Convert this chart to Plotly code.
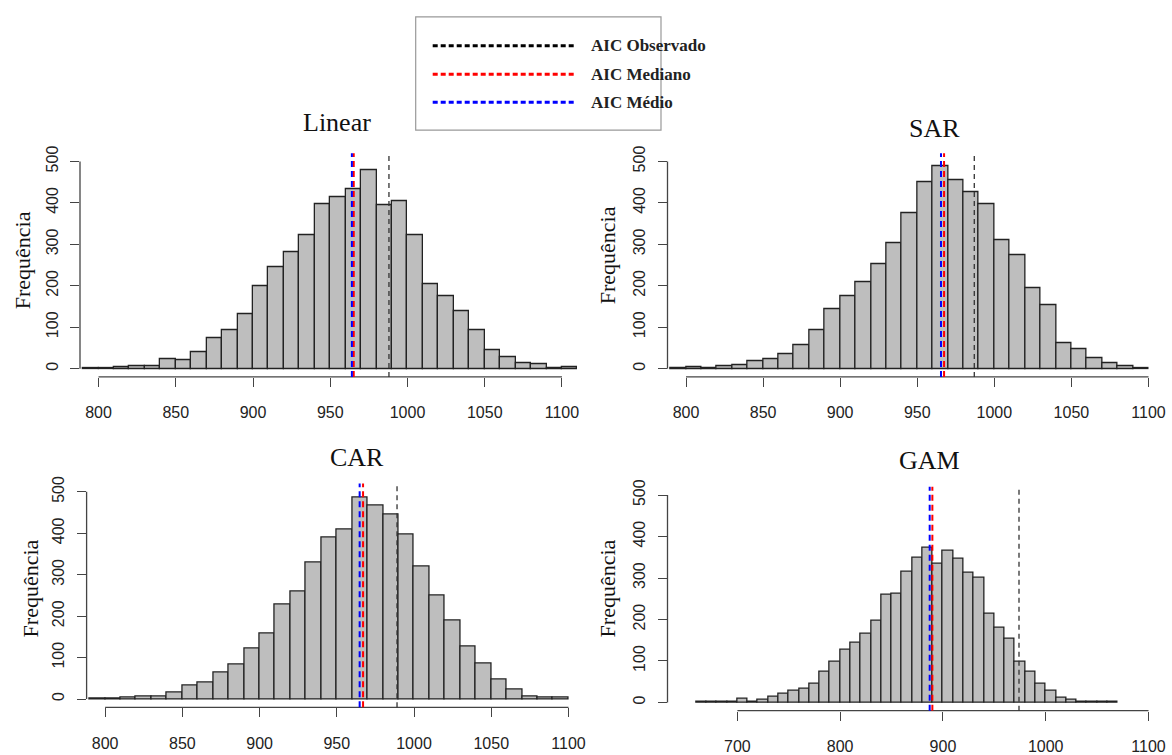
import plotly.graph_objects as go

# ---------------- data ----------------
panel_names = ["Linear", "SAR", "CAR", "GAM"]
bin_width = 10
bin_starts = [790, 790, 790, 660]

linear_counts = [2, 2, 3, 6, 6, 22, 20, 40, 74, 93, 132, 199, 246, 281, 321, 396,
                 414, 432, 479, 395, 405, 323, 204, 176, 139, 92, 44, 27, 14, 10, 1, 3]
sar_counts = [1, 3, 2, 5, 9, 17, 23, 35, 56, 93, 143, 175, 208, 253, 303, 376,
              451, 488, 456, 426, 397, 309, 275, 194, 154, 62, 48, 25, 13, 7, 2]
car_counts = [1, 1, 3, 5, 6, 16, 32, 40, 64, 83, 122, 158, 228, 259, 329, 390,
              408, 486, 466, 445, 397, 320, 250, 189, 127, 86, 46, 24, 7, 4, 3]
gam_counts = [1, 1, 2, 1, 8, 2, 7, 13, 20, 29, 33, 45, 74, 97, 128, 143, 166, 198,
              260, 263, 314, 349, 372, 335, 366, 347, 312, 300, 213, 181, 154, 97,
              74, 45, 28, 11, 6, 2, 1, 1, 2]
all_counts = [linear_counts, sar_counts, car_counts, gam_counts]

aic_observado = [988, 987, 989, 974]
aic_mediano = [965.2, 967.4, 967.0, 889.7]
aic_medio = [964.0, 965.4, 964.8, 887.1]

x_ticks = [[800, 850, 900, 950, 1000, 1050, 1100]] * 3 + [[700, 800, 900, 1000, 1100]]
y_ticks = [0, 100, 200, 300, 400, 500]

legend_labels = ["AIC Observado", "AIC Mediano", "AIC Médio"]
legend_colors = ["#000000", "#FF0000", "#0000FF"]

# ---------------- layout geometry (pixels) ----------------
W, H = 1172, 755
panel_px = [  # x0, x1, ytop, ybottom
    (80, 580.5, 148.3, 375.4),
    (667.5, 1167, 148.3, 375.4),
    (86.6, 587, 483.6, 710.7),
    (667.5, 1167, 486.9, 714.1),
]
x_ranges = [[788, 1112], [788, 1112], [788, 1112], [632, 1118]]
title_pos = [(337, 117), (934, 123), (357, 457), (929, 460)]
ylab_pos = [(22, 257), (607, 252), (30, 590), (607, 590)]

SERIF = "Liberation Serif"
SANS = "Liberation Sans"

def px_x(v):
    return v / W

def px_y(v):
    return 1 - v / H

fig = go.Figure()
shapes = []
annotations = []
layout_axes = {}

for i, name in enumerate(panel_names):
    counts = all_counts[i]
    start = bin_starts[i]
    centers = [start + bin_width * (k + 0.5) for k in range(len(counts))]
    xa = "x" if i == 0 else f"x{i+1}"
    ya = "y" if i == 0 else f"y{i+1}"
    fig.add_trace(go.Bar(
        x=centers, y=counts, width=bin_width,
        marker=dict(color="#BEBEBE", line=dict(color="#222222", width=1.3)),
        xaxis=xa, yaxis=ya, showlegend=False, hoverinfo="x+y",
    ))
    x0, x1, yt, yb = panel_px[i]
    xkey = "xaxis" if i == 0 else f"xaxis{i+1}"
    ykey = "yaxis" if i == 0 else f"yaxis{i+1}"
    layout_axes[xkey] = dict(
        domain=[px_x(x0), px_x(x1)], range=x_ranges[i], anchor=ya,
        showgrid=False, zeroline=False, showline=False,
        ticks="outside", ticklen=9, tickwidth=1.3, tickcolor="#444444",
        tickvals=x_ticks[i], ticktext=[str(t) for t in x_ticks[i]],
        tickfont=dict(family=SANS, size=16, color="#222222"),
        ticklabelstandoff=12,
    )
    layout_axes[ykey] = dict(
        domain=[px_y(yb), px_y(yt)], range=[-20, 520], anchor=xa,
        showgrid=False, zeroline=False, showline=False,
        ticks="outside", ticklen=9, tickwidth=1.3, tickcolor="#444444",
        tickvals=y_ticks, ticktext=[str(t) for t in y_ticks], tickangle=-90,
        tickfont=dict(family=SANS, size=16, color="#222222"),
        ticklabelstandoff=6,
    )
    # R-style axis lines spanning first to last tick
    shapes.append(dict(type="line", xref=xa, yref=f"{ya} domain",
                       x0=x_ticks[i][0], x1=x_ticks[i][-1], y0=0, y1=0,
                       line=dict(color="#444444", width=1.3)))
    shapes.append(dict(type="line", xref=f"{xa} domain", yref=ya,
                       x0=0, x1=0, y0=y_ticks[0], y1=y_ticks[-1],
                       line=dict(color="#444444", width=1.3)))
    # reference lines
    shapes.append(dict(type="line", xref=xa, yref=f"{ya} domain",
                       x0=aic_observado[i], x1=aic_observado[i], y0=0, y1=1,
                       line=dict(color="#333333", width=1.3, dash="5px,4px")))
    shapes.append(dict(type="line", xref=xa, yref=f"{ya} domain",
                       x0=aic_mediano[i], x1=aic_mediano[i], y0=0, y1=1,
                       line=dict(color="#FF0000", width=2, dash="6px,4px")))
    shapes.append(dict(type="line", xref=xa, yref=f"{ya} domain",
                       x0=aic_medio[i], x1=aic_medio[i], y0=0, y1=1,
                       line=dict(color="#0000FF", width=2, dash="6px,4px")))
    # titles
    annotations.append(dict(text=name, xref="paper", yref="paper",
                            x=px_x(title_pos[i][0]), y=px_y(title_pos[i][1]),
                            xanchor="center", yanchor="middle", showarrow=False,
                            font=dict(family=SERIF, size=26, color="#111111")))
    annotations.append(dict(text="Frequência", xref="paper", yref="paper",
                            x=px_x(ylab_pos[i][0]), y=px_y(ylab_pos[i][1]),
                            xanchor="center", yanchor="middle", showarrow=False,
                            textangle=-90,
                            font=dict(family=SERIF, size=22, color="#111111")))

# legend box
shapes.append(dict(type="rect", xref="paper", yref="paper",
                   x0=px_x(415.7), x1=px_x(661), y0=px_y(125), y1=px_y(10),
                   line=dict(color="#999999", width=1.2), fillcolor="white", layer="below"))
legend_y = [39.3, 68.3, 96.7]
for lab, col, ly in zip(legend_labels, legend_colors, legend_y):
    shapes.append(dict(type="line", xref="paper", yref="paper",
                       x0=px_x(432.7), x1=px_x(576.7), y0=px_y(ly), y1=px_y(ly),
                       line=dict(color=col, width=3, dash="5px,3px")))
    annotations.append(dict(text=f"<b>{lab}</b>", xref="paper", yref="paper",
                            x=px_x(589), y=px_y(ly), xanchor="left", yanchor="middle",
                            showarrow=False,
                            font=dict(family=SERIF, size=17, color="#222222")))

fig.update_layout(
    width=W, height=H, margin=dict(l=0, r=0, t=0, b=0),
    paper_bgcolor="white", plot_bgcolor="white",
    shapes=shapes, annotations=annotations, bargap=0,
    showlegend=False, **layout_axes,
)

fig.write_html(
    "out.html",
    config={"displayModeBar": False},
    post_script="document.body.style.margin='0';document.body.style.overflow='hidden';",
)
